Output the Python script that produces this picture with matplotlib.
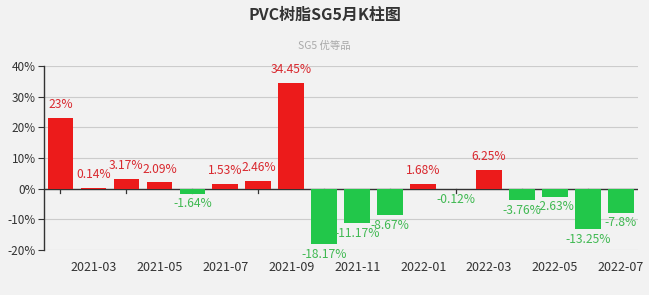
import matplotlib
matplotlib.use("Agg")
import matplotlib.pyplot as plt
import numpy as np

plt.rcParams['font.family'] = ['Noto Sans CJK SC', 'DejaVu Sans']

months = ["2021-02", "2021-03", "2021-04", "2021-05", "2021-06", "2021-07",
          "2021-08", "2021-09", "2021-10", "2021-11", "2021-12", "2022-01",
          "2022-02", "2022-03", "2022-04", "2022-05", "2022-06", "2022-07"]
values = [23, 0.14, 3.17, 2.09, -1.64, 1.53, 2.46, 34.45, -18.17, -11.17,
          -8.67, 1.68, -0.12, 6.25, -3.76, -2.63, -13.25, -7.8]
labels = ["23%", "0.14%", "3.17%", "2.09%", "-1.64%", "1.53%", "2.46%", "34.45%",
          "-18.17%", "-11.17%", "-8.67%", "1.68%", "-0.12%", "6.25%", "-3.76%",
          "-2.63%", "-13.25%", "-7.8%"]
yticks = [-20, -10, 0, 10, 20, 30, 40]

bg = "#f2f2f2"
red = "#ec1b1b"
green = "#22c74a"
red_txt = "#d9282e"
green_txt = "#40b952"

fig = plt.figure(figsize=(6.49, 2.95), dpi=100, facecolor=bg)
ax = fig.add_axes([44/649, 1 - 250/295, (637.5-44)/649, (250-66)/295])
ax.set_facecolor(bg)

x = np.arange(len(values))
colors = [red if v >= 0 else green for v in values]
ax.bar(x, values, width=0.78, color=colors, zorder=3)

for xi, v, lab in zip(x, values, labels):
    if v >= 0:
        ax.text(xi, v + 2.2, lab, ha='center', va='bottom', color=red_txt, fontsize=8.7, zorder=4)
    else:
        ax.text(xi, v - 1.2, lab, ha='center', va='top', color=green_txt, fontsize=8.7, zorder=4)

ax.set_xlim(-0.5, len(values) - 0.5)
ax.set_ylim(-20, 40)
ax.set_yticks(yticks)
ax.set_yticklabels([f"{t}%" for t in yticks], fontsize=8.5, color="#333333")
ax.grid(axis='y', color="#cccccc", linewidth=0.8, zorder=0)
ax.axhline(0, color="#333333", linewidth=1.0, zorder=2)

# ticks at odd bars, drawn behind bars
for xi in x[::2]:
    ax.plot([xi, xi], [0, -1.4], color="#333333", linewidth=0.9, zorder=2)

ax.set_xticks(x[1::2])
ax.set_xticklabels([months[i] for i in x[1::2]], fontsize=9, color="#333333")
ax.tick_params(axis='x', length=0, pad=8)
ax.tick_params(axis='y', length=4, color="#333333", pad=2)

for s in ['top', 'right', 'bottom']:
    ax.spines[s].set_visible(False)
ax.spines['left'].set_color("#333333")
ax.spines['left'].set_linewidth(1.0)

fig.text(0.5, 1 - 15/295, "PVC树脂SG5月K柱图", ha='center', va='center',
         fontsize=11.5, fontweight='bold', color="#333333")
fig.text(0.5, 1 - 46/295, "SG5 优等品", ha='center', va='center',
         fontsize=7.5, color="#aaaaaa")

fig.savefig("out.png", dpi=100, facecolor=bg)
